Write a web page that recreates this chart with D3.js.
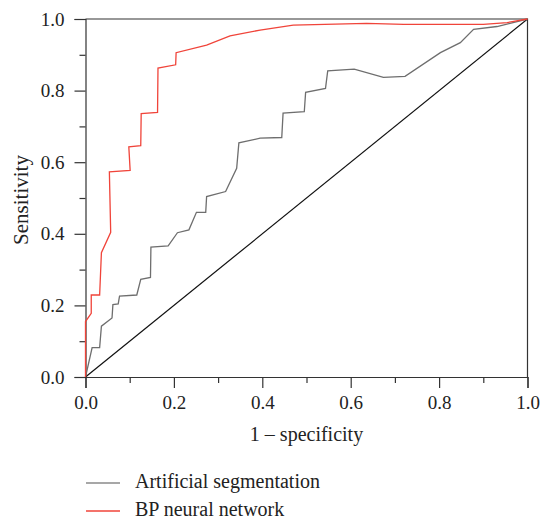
<!DOCTYPE html>
<html>
<head>
<meta charset="utf-8">
<script src="https://cdn.jsdelivr.net/npm/d3@7"></script>
<style>
  body { margin: 0; background: #fff; }
  svg { display: block; }
  text { font-family: "Liberation Serif", "DejaVu Serif", serif; fill: #222; }
</style>
</head>
<body>
<div id="chart"></div>
<script>
// ROC curves: [1 - specificity, sensitivity]
const bpX = [0, 0, 0.013, 0.013, 0.032, 0.036, 0.057, 0.054, 0.101, 0.098, 0.125, 0.126, 0.163, 0.164, 0.204, 0.205, 0.274, 0.327, 0.395, 0.47, 0.636, 0.72, 0.9, 0.954, 1];
const bpY = [0, 0.155, 0.178, 0.229, 0.229, 0.347, 0.404, 0.573, 0.577, 0.643, 0.646, 0.736, 0.739, 0.863, 0.872, 0.906, 0.927, 0.953, 0.969, 0.983, 0.988, 0.985, 0.985, 0.99, 1];

const artX = [0, 0.015, 0.032, 0.036, 0.060, 0.062, 0.074, 0.077, 0.116, 0.125, 0.147, 0.148, 0.187, 0.208, 0.234, 0.251, 0.272, 0.274, 0.317, 0.342, 0.347, 0.395, 0.444, 0.447, 0.495, 0.498, 0.543, 0.548, 0.608, 0.674, 0.723, 0.803, 0.848, 0.878, 0.931, 1];
const artY = [0, 0.082, 0.082, 0.142, 0.165, 0.202, 0.204, 0.226, 0.229, 0.273, 0.278, 0.363, 0.366, 0.403, 0.411, 0.460, 0.460, 0.504, 0.518, 0.583, 0.654, 0.667, 0.669, 0.737, 0.741, 0.795, 0.806, 0.855, 0.860, 0.837, 0.840, 0.906, 0.934, 0.971, 0.979, 1];

const refX = [0, 1];
const refY = [0, 1];

const majorTicks = [0, 0.2, 0.4, 0.6, 0.8, 1.0];
const minorTicks = [0.1, 0.3, 0.5, 0.7, 0.9];

const seriesNames = ["Artificial segmentation", "BP neural network"];
const seriesColors = ["#6e6e6e", "#f0443a"];

const W = 542, H = 519;
const margin = { left: 85.5, top: 19, right: 14.5, bottom: 142 };
const iw = W - margin.left - margin.right;
const ih = H - margin.top - margin.bottom;

const svg = d3.select("#chart").append("svg")
    .attr("width", W)
    .attr("height", H);

const g = svg.append("g")
    .attr("transform", `translate(${margin.left},${margin.top})`);

const x = d3.scaleLinear().domain([0, 1]).range([0, iw]);
const y = d3.scaleLinear().domain([0, 1]).range([ih, 0]);

// frame (top + right)
g.append("path")
    .attr("d", `M0,0H${iw}V${ih}`)
    .attr("fill", "none")
    .attr("stroke", "#333")
    .attr("stroke-width", 1.2);

// axes: major with labels, minor ticks without
g.append("g").attr("transform", `translate(0,${ih})`)
    .call(d3.axisBottom(x).tickValues(majorTicks).tickSize(11).tickPadding(8).tickFormat(d3.format(".1f")));
g.append("g").attr("transform", `translate(0,${ih})`)
    .call(d3.axisBottom(x).tickValues(minorTicks).tickSize(6).tickFormat(""))
    .select(".domain").remove();

g.append("g")
    .call(d3.axisLeft(y).tickValues(majorTicks).tickSize(11).tickPadding(10).tickFormat(d3.format(".1f")));
g.append("g")
    .call(d3.axisLeft(y).tickValues(minorTicks).tickSize(6).tickFormat(""))
    .select(".domain").remove();

g.selectAll(".domain, .tick line").attr("stroke", "#333").attr("stroke-width", 1.2);
g.selectAll(".tick text")
    .style("font-family", '"Liberation Serif", serif')
    .style("font-size", "19px")
    .attr("fill", "#222");

// axis titles
g.append("text")
    .attr("x", iw / 2)
    .attr("y", ih + 64)
    .attr("text-anchor", "middle")
    .style("font-size", "20px")
    .text("1 \u2013 specificity");

g.append("text")
    .attr("transform", `translate(${28 - margin.left},${ih / 2 + 2}) rotate(-90)`)
    .attr("text-anchor", "middle")
    .style("font-size", "21px")
    .text("Sensitivity");

const line = d3.line().x(d => x(d[0])).y(d => y(d[1]));

g.append("path")
    .datum(d3.zip(refX, refY))
    .attr("d", line)
    .attr("fill", "none")
    .attr("stroke", "#111")
    .attr("stroke-width", 1.2);

g.append("path")
    .datum(d3.zip(artX, artY))
    .attr("d", line)
    .attr("fill", "none")
    .attr("stroke", seriesColors[0])
    .attr("stroke-width", 1.3);

g.append("path")
    .datum(d3.zip(bpX, bpY))
    .attr("d", line)
    .attr("fill", "none")
    .attr("stroke", seriesColors[1])
    .attr("stroke-width", 1.3);

// legend
const legend = svg.append("g")
    .attr("transform", "translate(86,483)");

const item = legend.selectAll("g")
    .data(seriesNames)
    .enter()
    .append("g")
    .attr("transform", (d, i) => `translate(0,${i * 28})`);

item.append("line")
    .attr("x1", 0).attr("x2", 34)
    .attr("y1", 0).attr("y2", 0)
    .attr("stroke", (d, i) => i === 0 ? "#8a8a8a" : seriesColors[i])
    .attr("stroke-width", 1.3);

item.append("text")
    .attr("x", 49)
    .attr("y", 5)
    .style("font-size", "20px")
    .text(d => d);
</script>
</body>
</html>
